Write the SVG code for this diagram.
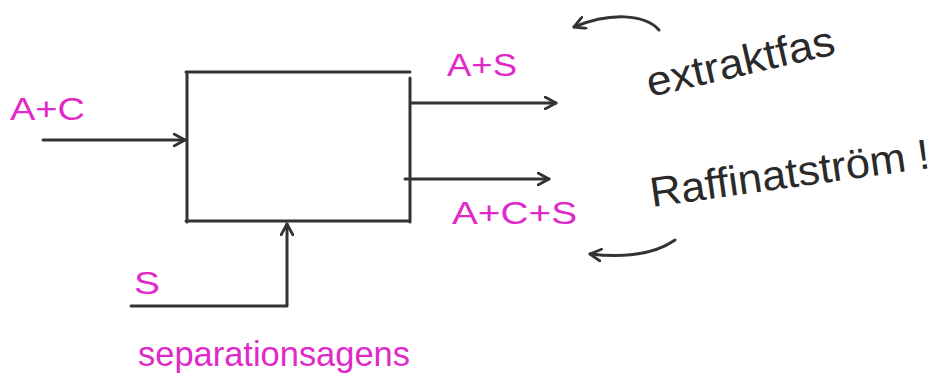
<svg xmlns="http://www.w3.org/2000/svg" width="937" height="383" viewBox="0 0 937 383">
  <style>
    .ln { fill: none; stroke: #333; stroke-width: 3; stroke-linecap: round; stroke-linejoin: round; }
    .pink { fill: #e02ac8; font-family: "Liberation Sans", Arial, sans-serif; }
    .note { fill: #2a2a2a; font-family: "Liberation Sans", Arial, sans-serif; }
  </style>
  <defs>
    <marker id="open" viewBox="0 0 14 14" refX="12" refY="7" markerWidth="14" markerHeight="14" markerUnits="userSpaceOnUse" orient="auto">
      <path d="M1,1 L12,7 L1,13" fill="none" stroke="#333" stroke-width="2.8" stroke-linecap="round" stroke-linejoin="round"/>
    </marker>
  </defs>
  <rect width="937" height="383" fill="#fff"/>

  <!-- extraction unit -->
  <g id="extractor">
    <path class="ln" d="M186,72 L410,72 M187,72 L187,222 M410,78 L410,222 M186,221 L410,221"/>
  </g>

  <!-- streams -->
  <g id="connectors">
    <path class="ln" d="M43,140 L185,140" marker-end="url(#open)"/>
    <path class="ln" d="M411,103 L556,103" marker-end="url(#open)"/>
    <path class="ln" d="M405,179 L549,179" marker-end="url(#open)"/>
    <path class="ln" d="M131,306 L287,306 L287,224" marker-end="url(#open)"/>
    <path class="ln" d="M659,30 C645,14 610,12 574,27" marker-end="url(#open)"/>
    <path class="ln" d="M675,240 C655,254 625,258 590,254" marker-end="url(#open)"/>
  </g>

  <!-- stream labels -->
  <g id="feed-label"><text class="pink" x="10" y="120" font-size="31" textLength="75" lengthAdjust="spacingAndGlyphs">A+C</text></g>
  <g id="extract-label"><text class="pink" x="447" y="76" font-size="31" textLength="70" lengthAdjust="spacingAndGlyphs">A+S</text></g>
  <g id="raffinate-label"><text class="pink" x="452" y="224" font-size="31" textLength="125" lengthAdjust="spacingAndGlyphs">A+C+S</text></g>
  <g id="solvent-label"><text class="pink" x="134" y="294" font-size="31" textLength="26" lengthAdjust="spacingAndGlyphs">S</text></g>
  <g id="solvent-name"><text class="pink" x="138" y="366" font-size="35" textLength="272" lengthAdjust="spacingAndGlyphs">separationsagens</text></g>

  <!-- side notes -->
  <g id="note-extract">
    <text class="note" x="650" y="97" font-size="42" transform="rotate(-13 650 97)" textLength="192" lengthAdjust="spacingAndGlyphs">extraktfas</text>
  </g>
  <g id="note-raffinate">
    <text class="note" x="652" y="207" font-size="42" transform="rotate(-8 652 207)" textLength="282" lengthAdjust="spacingAndGlyphs">Raffinatström !</text>
  </g>
</svg>
